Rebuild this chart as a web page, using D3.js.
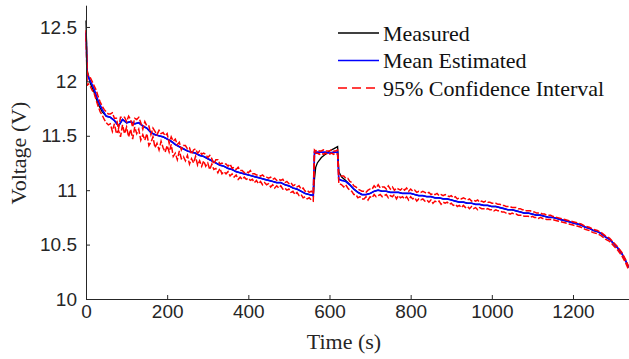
<!DOCTYPE html>
<html>
  <head>
    <meta charset="utf-8">
    <title>Voltage estimate</title>
    <script src="https://d3js.org/d3.v7.min.js"></script>
    <style>
      body { margin: 0; background: #fff; }
      .axis text { font-family: "Liberation Sans", Arial, sans-serif; font-size: 19px; fill: #262626; }
      .axis path, .axis line { stroke: #262626; }
      .label { font-family: "Liberation Serif", "Times New Roman", serif; font-size: 22px; fill: #262626; }
      .legend text { font-family: "Liberation Serif", "Times New Roman", serif; font-size: 22px; fill: #111; }
    </style>
  </head>
  <body>
    <svg id="chart" width="629" height="359"></svg>
    <script>
      // time stamps (s) for measured and mean estimate
      var time = [0, 3, 10, 20, 30, 40, 50, 60, 70, 80, 90, 100, 110, 120, 130, 140, 150, 160, 170, 180, 190,
        200, 210, 220, 230, 240, 250, 260, 270, 280, 290, 300, 310, 320, 330, 340, 350, 360, 370, 380, 390,
        400, 410, 420, 430, 440, 450, 460, 470, 480, 490, 500, 510, 520, 530, 540, 550, 560, 563, 566, 570,
        580, 590, 600, 610, 620, 623, 630, 640, 650, 660, 670, 680, 690, 700, 710, 720, 730, 740, 750, 760,
        770, 780, 790, 800, 810, 820, 830, 840, 850, 860, 870, 880, 890, 900, 910, 920, 930, 940, 950, 960,
        970, 980, 990, 1000, 1010, 1020, 1030, 1040, 1050, 1060, 1070, 1080, 1090, 1100, 1110, 1120, 1130,
        1140, 1150, 1160, 1170, 1180, 1190, 1200, 1210, 1220, 1230, 1240, 1250, 1260, 1270, 1280, 1290,
        1300, 1310, 1320, 1330, 1337];
      // measured voltage (V)
      var measured = [12.56, 12.10, 11.99, 11.90, 11.79, 11.72, 11.68, 11.67, 11.64, 11.59, 11.65, 11.62, 11.63, 11.61, 11.62, 11.59, 11.57, 11.53, 11.51, 11.50, 11.49,
        11.47, 11.45, 11.42, 11.40, 11.38, 11.36, 11.35, 11.34, 11.32, 11.31, 11.29, 11.27, 11.25, 11.23, 11.22, 11.20, 11.19, 11.17, 11.16, 11.15,
        11.14, 11.13, 11.12, 11.11, 11.10, 11.09, 11.08, 11.07, 11.07, 11.05, 11.04, 11.02, 11.01, 10.99, 10.97, 10.96, 10.95, 11.10, 11.21, 11.25,
        11.30, 11.33, 11.36, 11.38, 11.40, 11.17, 11.12, 11.09, 11.05, 11.01, 10.98, 10.96, 10.96, 10.97, 10.99, 11.00, 10.99, 10.99, 10.98, 10.98,
        10.98, 10.97, 10.97, 10.97, 10.96, 10.95, 10.95, 10.94, 10.94, 10.93, 10.93, 10.92, 10.92, 10.91, 10.90, 10.89, 10.89, 10.88, 10.88, 10.87,
        10.87, 10.86, 10.86, 10.85, 10.85, 10.84, 10.83, 10.82, 10.82, 10.81, 10.80, 10.79, 10.79, 10.78, 10.77, 10.77, 10.76,
        10.75, 10.75, 10.74, 10.73, 10.72, 10.71, 10.70, 10.69, 10.68, 10.66, 10.65, 10.63, 10.62, 10.60, 10.57, 10.55,
        10.51, 10.47, 10.42, 10.35, 10.29];
      // mean estimated voltage (V)
      var meanEst = [12.45, 12.06, 12.01, 11.93, 11.82, 11.74, 11.68, 11.67, 11.64, 11.59, 11.65, 11.62, 11.63, 11.61, 11.62, 11.59, 11.57, 11.53, 11.51, 11.50, 11.49,
        11.47, 11.45, 11.42, 11.40, 11.38, 11.36, 11.35, 11.34, 11.32, 11.31, 11.29, 11.27, 11.25, 11.23, 11.22, 11.20, 11.19, 11.17, 11.16, 11.15,
        11.14, 11.13, 11.12, 11.11, 11.10, 11.09, 11.08, 11.07, 11.07, 11.05, 11.04, 11.02, 11.01, 10.99, 10.97, 10.96, 10.95, 11.35, 11.35, 11.35,
        11.35, 11.35, 11.34, 11.35, 11.35, 11.10, 11.09, 11.08, 11.05, 11.01, 10.98, 10.96, 10.96, 10.97, 10.99, 11.00, 10.99, 10.99, 10.98, 10.98,
        10.98, 10.97, 10.97, 10.97, 10.96, 10.95, 10.95, 10.94, 10.94, 10.93, 10.93, 10.92, 10.92, 10.91, 10.90, 10.89, 10.89, 10.88, 10.88, 10.87,
        10.87, 10.86, 10.86, 10.85, 10.85, 10.84, 10.83, 10.82, 10.82, 10.81, 10.80, 10.79, 10.79, 10.78, 10.77, 10.77, 10.76,
        10.75, 10.75, 10.74, 10.73, 10.72, 10.71, 10.70, 10.69, 10.68, 10.66, 10.65, 10.63, 10.62, 10.60, 10.57, 10.55,
        10.51, 10.47, 10.42, 10.35, 10.29];

      // time stamps (s) for the 95% confidence interval
      var ciTime = [0, 3, 5, 10, 15, 20, 25, 30, 35, 40,
        45, 50, 55, 60, 65, 70, 75, 80, 85, 90,
        95, 100, 105, 110, 115, 120, 125, 130, 135, 140,
        145, 150, 155, 160, 165, 170, 175, 180, 185, 190,
        195, 200, 205, 210, 215, 220, 225, 230, 235, 240,
        245, 250, 255, 260, 265, 270, 275, 280, 285, 290,
        295, 300, 305, 310, 315, 320, 325, 330, 335, 340,
        345, 350, 355, 360, 365, 370, 375, 380, 385, 390,
        395, 400, 405, 410, 415, 420, 425, 430, 435, 440,
        445, 450, 455, 460, 465, 470, 475, 480, 485, 490,
        495, 500, 505, 510, 515, 520, 525, 530, 535, 540,
        545, 550, 555, 560, 563, 566, 570, 575, 580, 585,
        590, 595, 600, 605, 610, 615, 620, 623, 625, 630,
        635, 640, 645, 650, 655, 660, 665, 670, 675, 680,
        685, 690, 695, 700, 705, 710, 715, 720, 725, 730,
        735, 740, 745, 750, 755, 760, 765, 770, 775, 780,
        785, 790, 795, 800, 805, 810, 815, 820, 825, 830,
        835, 840, 845, 850, 855, 860, 865, 870, 875, 880,
        885, 890, 895, 900, 905, 910, 915, 920, 925, 930,
        935, 940, 945, 950, 955, 960, 965, 970, 975, 980,
        985, 990, 995, 1000, 1005, 1010, 1015, 1020, 1025, 1030,
        1035, 1040, 1045, 1050, 1055, 1060, 1065, 1070, 1075, 1080,
        1085, 1090, 1095, 1100, 1105, 1110, 1115, 1120, 1125, 1130,
        1135, 1140, 1145, 1150, 1160, 1170, 1180, 1190, 1200, 1210,
        1220, 1230, 1240, 1250, 1260, 1270, 1280, 1290, 1300, 1310,
        1320, 1330, 1337];
      var ciUpper = [12.47, 12.08, 12.06, 12.04, 12.00, 11.96, 11.92, 11.86, 11.81, 11.77,
        11.74, 11.72, 11.70, 11.70, 11.71, 11.66, 11.66, 11.56, 11.67, 11.67,
        11.67, 11.63, 11.68, 11.65, 11.58, 11.66, 11.65, 11.67, 11.62, 11.56,
        11.63, 11.59, 11.59, 11.51, 11.57, 11.54, 11.51, 11.55, 11.52, 11.53,
        11.50, 11.52, 11.43, 11.49, 11.45, 11.47, 11.42, 11.44, 11.37, 11.41,
        11.41, 11.38, 11.39, 11.33, 11.37, 11.38, 11.34, 11.36, 11.33, 11.34,
        11.33, 11.30, 11.32, 11.29, 11.24, 11.28, 11.28, 11.24, 11.25, 11.24,
        11.24, 11.22, 11.24, 11.20, 11.21, 11.19, 11.21, 11.18, 11.18, 11.16,
        11.17, 11.16, 11.18, 11.15, 11.15, 11.14, 11.14, 11.13, 11.14, 11.12,
        11.12, 11.11, 11.12, 11.10, 11.11, 11.09, 11.10, 11.09, 11.10, 11.07,
        11.08, 11.06, 11.07, 11.04, 11.05, 11.03, 11.04, 11.01, 11.02, 10.99,
        11.00, 10.98, 10.99, 10.97, 11.37, 11.36, 11.37, 11.36, 11.36, 11.37,
        11.36, 11.36, 11.36, 11.37, 11.36, 11.36, 11.37, 11.14, 11.13, 11.13,
        11.13, 11.11, 11.11, 11.08, 11.07, 11.04, 11.03, 11.01, 11.00, 10.99,
        10.99, 10.98, 11.00, 11.01, 11.01, 11.04, 11.02, 11.05, 11.02, 11.03,
        11.03, 11.01, 11.04, 11.01, 11.03, 11.00, 11.02, 11.01, 11.00, 11.02,
        11.00, 11.02, 10.99, 11.01, 10.99, 11.00, 10.98, 10.99, 10.98, 10.99,
        10.98, 10.97, 10.98, 10.96, 10.97, 10.96, 10.97, 10.95, 10.96, 10.95,
        10.96, 10.95, 10.94, 10.95, 10.93, 10.94, 10.92, 10.93, 10.92, 10.93,
        10.92, 10.91, 10.92, 10.90, 10.91, 10.90, 10.91, 10.89, 10.90, 10.89,
        10.90, 10.89, 10.89, 10.88, 10.88, 10.88, 10.87, 10.87, 10.86, 10.86,
        10.85, 10.85, 10.85, 10.84, 10.84, 10.84, 10.83, 10.83, 10.82, 10.82,
        10.81, 10.81, 10.81, 10.80, 10.80, 10.79, 10.79, 10.79, 10.78, 10.78,
        10.77, 10.77, 10.77, 10.76, 10.75, 10.74, 10.73, 10.72, 10.71, 10.70,
        10.69, 10.67, 10.66, 10.64, 10.63, 10.61, 10.58, 10.56, 10.52, 10.48,
        10.43, 10.36, 10.30];
      var ciLower = [12.42, 11.96, 11.98, 11.96, 11.92, 11.89, 11.83, 11.77, 11.72, 11.69,
        11.65, 11.62, 11.60, 11.61, 11.54, 11.61, 11.52, 11.55, 11.49, 11.60,
        11.52, 11.58, 11.49, 11.56, 11.47, 11.58, 11.52, 11.56, 11.46, 11.51,
        11.46, 11.52, 11.41, 11.44, 11.49, 11.39, 11.43, 11.37, 11.45, 11.39,
        11.35, 11.41, 11.35, 11.42, 11.31, 11.34, 11.28, 11.36, 11.29, 11.31,
        11.27, 11.32, 11.24, 11.29, 11.25, 11.31, 11.23, 11.27, 11.22, 11.27,
        11.22, 11.25, 11.19, 11.24, 11.19, 11.20, 11.16, 11.20, 11.15, 11.17,
        11.15, 11.17, 11.13, 11.15, 11.12, 11.14, 11.10, 11.12, 11.10, 11.12,
        11.10, 11.11, 11.09, 11.10, 11.07, 11.09, 11.06, 11.08, 11.05, 11.07,
        11.05, 11.06, 11.03, 11.05, 11.02, 11.04, 11.02, 11.04, 11.01, 11.02,
        11.00, 11.01, 10.98, 10.99, 10.96, 10.98, 10.95, 10.96, 10.93, 10.94,
        10.92, 10.93, 10.91, 10.90, 11.33, 11.34, 11.34, 11.33, 11.34, 11.33,
        11.34, 11.33, 11.33, 11.34, 11.33, 11.34, 11.33, 11.06, 11.06, 11.05,
        11.03, 11.05, 11.02, 11.00, 10.99, 10.96, 10.96, 10.93, 10.94, 10.92,
        10.92, 10.94, 10.91, 10.94, 10.93, 10.96, 10.94, 10.95, 10.96, 10.94,
        10.95, 10.96, 10.93, 10.95, 10.94, 10.96, 10.92, 10.95, 10.93, 10.94,
        10.92, 10.94, 10.91, 10.94, 10.92, 10.93, 10.90, 10.92, 10.91, 10.92,
        10.90, 10.91, 10.89, 10.91, 10.88, 10.90, 10.89, 10.90, 10.87, 10.89,
        10.88, 10.89, 10.87, 10.88, 10.86, 10.87, 10.85, 10.86, 10.84, 10.86,
        10.84, 10.85, 10.83, 10.85, 10.83, 10.84, 10.82, 10.84, 10.83, 10.83,
        10.82, 10.83, 10.82, 10.82, 10.81, 10.82, 10.81, 10.81, 10.80, 10.80,
        10.79, 10.79, 10.78, 10.79, 10.78, 10.78, 10.77, 10.77, 10.77, 10.76,
        10.76, 10.76, 10.75, 10.76, 10.75, 10.75, 10.74, 10.75, 10.74, 10.74,
        10.73, 10.73, 10.73, 10.73, 10.72, 10.71, 10.70, 10.69, 10.68, 10.67,
        10.66, 10.64, 10.63, 10.61, 10.60, 10.58, 10.55, 10.53, 10.49, 10.45,
        10.40, 10.33, 10.27];

      // axis ticks and legend
      var xTicks = [0, 200, 400, 600, 800, 1000, 1200];
      var yTicks = [10, 10.5, 11, 11.5, 12, 12.5];
      var legendNames = ["Measured", "Mean Estimated", "95% Confidence Interval"];

      var margin = { left: 86, right: 0, top: 5, bottom: 60 };
      var width = 629, height = 359;
      var svg = d3.select("#chart");

      var x = d3.scaleLinear().domain([0, 1340]).range([margin.left, 629.8]);
      var y = d3.scaleLinear().domain([10, 12.7]).range([height - margin.bottom, 5.2]);

      var xAxis = d3.axisBottom(x)
        .tickValues(xTicks)
        .tickFormat(d3.format("d"))
        .tickSizeInner(-4)
        .tickSizeOuter(0)
        .tickPadding(6);
      var yAxis = d3.axisLeft(y)
        .tickValues(yTicks)
        .tickFormat(function(d) { return String(d); })
        .tickSizeInner(-4)
        .tickSizeOuter(0)
        .tickPadding(9);

      var line = d3.line()
        .x(function(d) { return x(d[0]); })
        .y(function(d) { return y(d[1]); });
      function pairs(times, vals) {
        return times.map(function(t, i) { return [t, vals[i]]; });
      }

      var plot = svg.append("g");
      plot.append("path")
        .attr("d", line(pairs(time, measured)))
        .attr("fill", "none")
        .attr("stroke", "#000")
        .attr("stroke-width", 1.3);
      plot.append("path")
        .attr("d", line(pairs(time, meanEst)))
        .attr("fill", "none")
        .attr("stroke", "#0000ff")
        .attr("stroke-width", 1.7);
      [ciUpper, ciLower].forEach(function(vals) {
        plot.append("path")
          .attr("d", line(pairs(ciTime, vals)))
          .attr("fill", "none")
          .attr("stroke", "#ff0000")
          .attr("stroke-width", 1.5)
          .attr("stroke-dasharray", "6,2");
      });

      svg.append("g")
        .attr("class", "axis")
        .attr("transform", "translate(0," + y(10) + ")")
        .call(xAxis);
      svg.append("g")
        .attr("class", "axis")
        .attr("transform", "translate(" + margin.left + ",0)")
        .call(yAxis);

      svg.append("text")
        .attr("class", "label")
        .attr("text-anchor", "middle")
        .attr("x", 344)
        .attr("y", 349)
        .text("Time (s)");
      svg.append("text")
        .attr("class", "label")
        .attr("text-anchor", "middle")
        .attr("transform", "translate(26,153) rotate(-90)")
        .text("Voltage (V)");

      // legend
      var legendStyles = [
        { stroke: "#000", dash: null },
        { stroke: "#0000ff", dash: null },
        { stroke: "#ff0000", dash: "9,5" }
      ];
      var legend = svg.append("g").attr("class", "legend");
      legendNames.forEach(function(name, i) {
        var ly = 33 + i * 27.5;
        legend.append("line")
          .attr("x1", 338).attr("x2", 379)
          .attr("y1", ly).attr("y2", ly)
          .attr("stroke", legendStyles[i].stroke)
          .attr("stroke-width", 1.3)
          .attr("stroke-dasharray", legendStyles[i].dash);
        legend.append("text")
          .attr("x", 383)
          .attr("y", ly)
          .attr("dy", "0.35em")
          .text(name);
      });
    </script>
  </body>
</html>
